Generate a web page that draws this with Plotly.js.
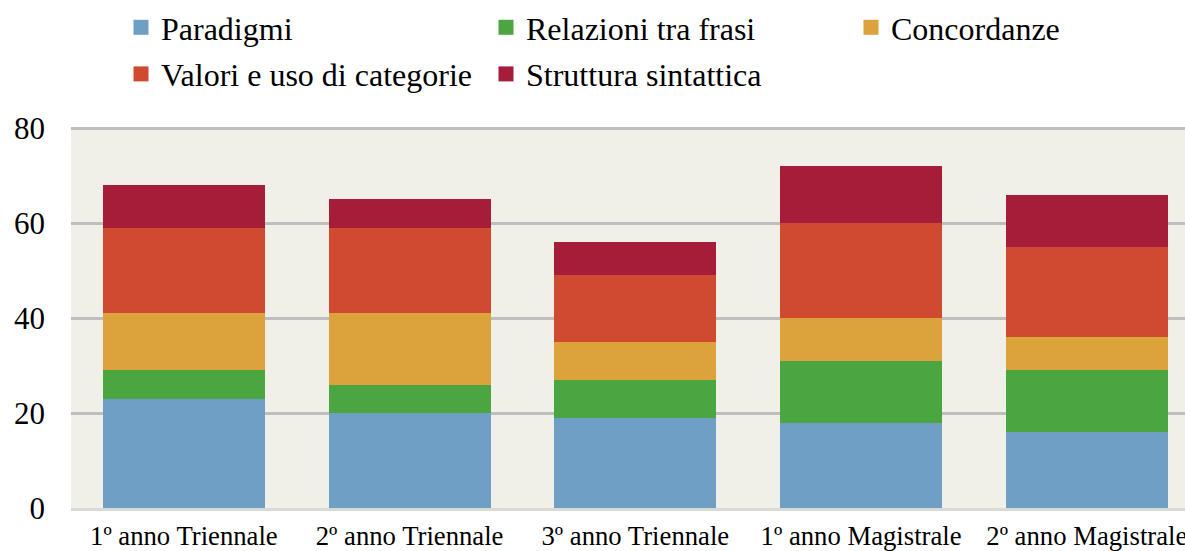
<!DOCTYPE html>
<html>
<head>
<meta charset="utf-8">
<script src="https://cdn.plot.ly/plotly-3.0.1.min.js"></script>
<style>
  html, body { margin: 0; padding: 0; background: #ffffff; }
  #chart { width: 1185px; height: 551px; }
</style>
</head>
<body>
<div id="chart"></div>
<script>
// Data
const categories = ["1º anno Triennale", "2º anno Triennale", "3º anno Triennale", "1º anno Magistrale", "2º anno Magistrale"];
const seriesNames = ["Paradigmi", "Relazioni tra frasi", "Concordanze", "Valori e uso di categorie", "Struttura sintattica"];
const paradigmi = [23, 20, 19, 18, 16];
const relazioni = [6, 6, 8, 13, 13];
const concordanze = [12, 15, 8, 9, 7];
const valori = [18, 18, 14, 20, 19];
const struttura = [9, 6, 7, 12, 11];
const yTicks = [0, 20, 40, 60, 80];

const seriesValues = [paradigmi, relazioni, concordanze, valori, struttura];
const colors = ["#6F9FC5", "#4BA540", "#DCA23C", "#CF4A31", "#A61D3A"];
const legendOf = ["legend", "legend2", "legend3", "legend", "legend2"];

const barTraces = seriesValues.map((vals, i) => ({
  type: "bar",
  name: seriesNames[i],
  x: categories,
  y: vals,
  marker: { color: colors[i], line: { width: 0 } },
  showlegend: false,
  legendgroup: "g" + i,
  hoverinfo: "x+y+name"
}));

// legend entries (square swatches), linked to bars via legendgroup
const legendTraces = seriesNames.map((name, i) => ({
  type: "scatter",
  mode: "markers",
  name: name,
  x: [null],
  y: [null],
  marker: { color: colors[i], symbol: "square", size: 15, line: { width: 0 } },
  legend: legendOf[i],
  legendgroup: "g" + i,
  hoverinfo: "skip"
}));

const legendFont = { family: "Liberation Serif, Times New Roman, serif", size: 32, color: "#000000" };
function mkLegend(xpx) {
  return {
    orientation: "v",
    xref: "container", yref: "container",
    x: xpx / 1185, y: 1 - 0 / 551,
    xanchor: "left", yanchor: "top",
    font: legendFont,
    bgcolor: "rgba(0,0,0,0)",
    traceorder: "grouped",
    tracegroupgap: 2,
    itemclick: false, itemdoubleclick: false
  };
}

const layout = {
  width: 1185, height: 551,
  margin: { l: 71, r: 0, t: 127, b: 43, pad: 0, autoexpand: false },
  paper_bgcolor: "#ffffff",
  plot_bgcolor: "#F1F0E8",
  barmode: "stack",
  bargap: 0.282,
  showlegend: true,
  legend: mkLegend(121),
  legend2: mkLegend(486),
  legend3: mkLegend(851),
  font: { family: "Liberation Serif, Times New Roman, serif", color: "#000000" },
  xaxis: {
    type: "category",
    range: [-0.5, 4.435],
    automargin: false,
    tickangle: 0,
    showgrid: false,
    showline: true,
    linecolor: "#DADAD5",
    linewidth: 2.5,
    zeroline: false,
    ticks: "",
    tickfont: { family: "Liberation Serif, Times New Roman, serif", size: 26.7, color: "#000000" },
    ticklabelstandoff: 2,
    fixedrange: true
  },
  yaxis: {
    range: [0, 80.25],
    automargin: false,
    tickvals: yTicks,
    ticktext: yTicks.map(String),
    showgrid: true,
    gridcolor: "#BEBEBE",
    gridwidth: 2.5,
    zeroline: false,
    showline: false,
    ticks: "",
    tickfont: { family: "Liberation Serif, Times New Roman, serif", size: 31, color: "#000000" },
    ticklabelstandoff: 25,
    fixedrange: true
  }
};

Plotly.newPlot("chart", barTraces.concat(legendTraces), layout, { displayModeBar: false });
</script>
</body>
</html>
